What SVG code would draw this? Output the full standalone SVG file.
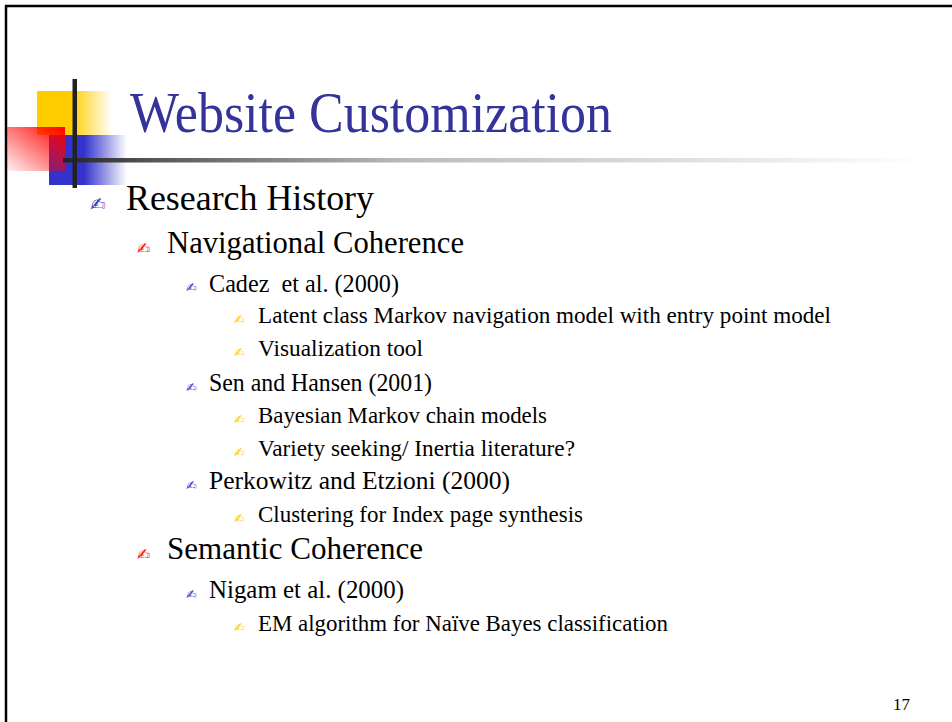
<svg xmlns="http://www.w3.org/2000/svg" width="952" height="722" viewBox="0 0 952 722">
<defs>
<linearGradient id="gy" x1="0" y1="0" x2="1" y2="0"><stop offset="0" stop-color="#ffcc00"/><stop offset="0.45" stop-color="#ffcc00"/><stop offset="1" stop-color="#ffcc00" stop-opacity="0"/></linearGradient>
<linearGradient id="gb" x1="0" y1="0" x2="1" y2="0"><stop offset="0" stop-color="#3333cc"/><stop offset="0.45" stop-color="#3333cc"/><stop offset="1" stop-color="#3333cc" stop-opacity="0"/></linearGradient>
<linearGradient id="gr" x1="1" y1="0" x2="0" y2="1"><stop offset="0" stop-color="#ff0000"/><stop offset="1" stop-color="#ff0000" stop-opacity="0.05"/></linearGradient>
<linearGradient id="gl" x1="0" y1="0" x2="1" y2="0"><stop offset="0" stop-color="#222"/><stop offset="0.1" stop-color="#555"/><stop offset="0.4" stop-color="#bbb"/><stop offset="1" stop-color="#fff"/></linearGradient>
<style>
.t{font-family:"Liberation Serif",serif;fill:#000}
.b{font-family:"DejaVu Sans",sans-serif}
</style>
</defs>
<rect width="952" height="722" fill="#fff"/>
<path d="M6 722V6H952" fill="none" stroke="#000" stroke-width="2.5"/>
<g id="logo">
<rect x="37" y="91" width="75" height="44" fill="url(#gy)"/>
<rect x="49" y="135" width="78" height="50" fill="url(#gb)"/>
<rect x="7" y="127" width="58" height="44" fill="url(#gr)"/>
<rect x="63" y="158" width="860" height="4.5" fill="url(#gl)"/>
<rect x="72.5" y="79" width="4.5" height="109" fill="#222"/>
</g>
<g id="title"><text class="t" x="130" y="132" font-size="56" textLength="482" lengthAdjust="spacingAndGlyphs" style="fill:#333399">Website Customization</text></g>
<g id="items">
<text class="b" x="90" y="211" font-size="19" fill="#3333cc">✍</text>
<text class="t" x="126" y="210" font-size="36" textLength="248" lengthAdjust="spacingAndGlyphs">Research History</text>
<text class="b" x="137" y="254" font-size="16" fill="#ff0000">✍</text>
<text class="t" x="167" y="253" font-size="31" textLength="297" lengthAdjust="spacingAndGlyphs">Navigational Coherence</text>
<text class="b" x="186" y="292" font-size="13" fill="#3333cc">✍</text>
<text class="t" x="209" y="292" font-size="25" textLength="190" lengthAdjust="spacingAndGlyphs">Cadez&#160; et al. (2000)</text>
<text class="b" x="234" y="324" font-size="13" fill="#ffcc00">✍</text>
<text class="t" x="258" y="323" font-size="24" textLength="573" lengthAdjust="spacingAndGlyphs">Latent class Markov navigation model with entry point model</text>
<text class="b" x="234" y="357" font-size="13" fill="#ffcc00">✍</text>
<text class="t" x="258" y="356" font-size="24" textLength="165" lengthAdjust="spacingAndGlyphs">Visualization tool</text>
<text class="b" x="186" y="392" font-size="13" fill="#3333cc">✍</text>
<text class="t" x="209" y="391" font-size="25" textLength="223" lengthAdjust="spacingAndGlyphs">Sen and Hansen (2001)</text>
<text class="b" x="234" y="424" font-size="13" fill="#ffcc00">✍</text>
<text class="t" x="258" y="423" font-size="24" textLength="289" lengthAdjust="spacingAndGlyphs">Bayesian Markov chain models</text>
<text class="b" x="234" y="457" font-size="13" fill="#ffcc00">✍</text>
<text class="t" x="258" y="456" font-size="24" textLength="317" lengthAdjust="spacingAndGlyphs">Variety seeking/ Inertia literature?</text>
<text class="b" x="186" y="490" font-size="13" fill="#3333cc">✍</text>
<text class="t" x="209" y="489" font-size="25" textLength="301" lengthAdjust="spacingAndGlyphs">Perkowitz and Etzioni (2000)</text>
<text class="b" x="234" y="523" font-size="13" fill="#ffcc00">✍</text>
<text class="t" x="258" y="522" font-size="24" textLength="325" lengthAdjust="spacingAndGlyphs">Clustering for Index page synthesis</text>
<text class="b" x="137" y="560" font-size="16" fill="#ff0000">✍</text>
<text class="t" x="167" y="559" font-size="31" textLength="256" lengthAdjust="spacingAndGlyphs">Semantic Coherence</text>
<text class="b" x="186" y="599" font-size="13" fill="#3333cc">✍</text>
<text class="t" x="209" y="598" font-size="25" textLength="195" lengthAdjust="spacingAndGlyphs">Nigam et al. (2000)</text>
<text class="b" x="234" y="632" font-size="13" fill="#ffcc00">✍</text>
<text class="t" x="258" y="631" font-size="24" textLength="410" lengthAdjust="spacingAndGlyphs">EM algorithm for Naïve Bayes classification</text>
<text class="t" x="893" y="710" font-size="17">17</text>
</g>
</svg>
